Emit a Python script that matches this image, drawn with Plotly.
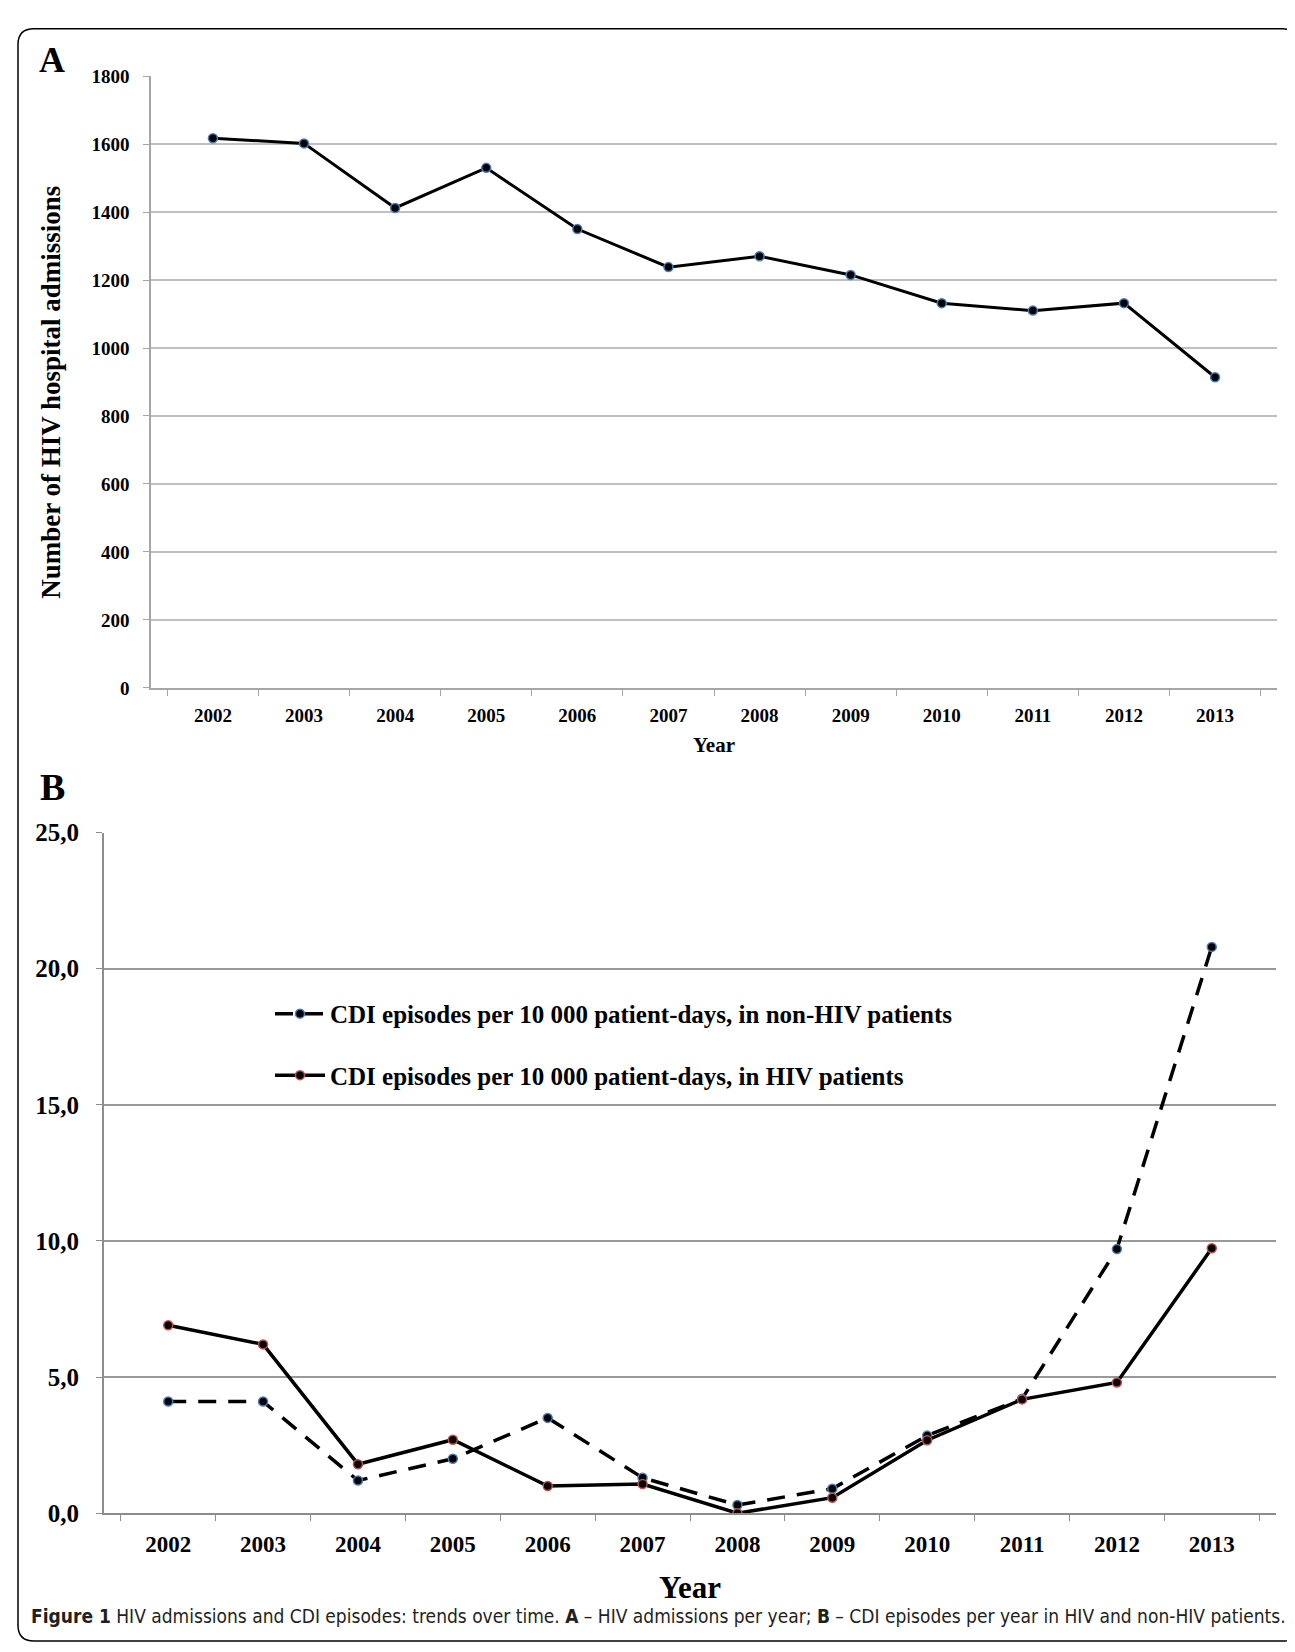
import plotly.graph_objects as go

years = ["2002", "2003", "2004", "2005", "2006", "2007", "2008", "2009", "2010", "2011", "2012", "2013"]
hiv_admissions = [1617, 1602, 1412, 1530, 1350, 1238, 1270, 1215, 1132, 1110, 1132, 914]
cdi_non_hiv = [4.1, 4.1, 1.2, 2.0, 3.5, 1.3, 0.3, 0.9, 2.85, 4.2, 9.7, 20.8]
cdi_hiv = [6.9, 6.2, 1.8, 2.7, 1.0, 1.07, 0.0, 0.57, 2.68, 4.18, 4.8, 9.73]
a_ticks = [0, 200, 400, 600, 800, 1000, 1200, 1400, 1600, 1800]
b_ticks = [0, 5, 10, 15, 20, 25]
b_ticktext = ["0,0", "5,0", "10,0", "15,0", "20,0", "25,0"]

W, H = 1295, 1652
def px(x):
    return x / W
def py(y):
    return 1 - y / H

SERIF = "Liberation Serif, Times New Roman, serif"
BLUE = "#4a7ebb"
RED = "#c0504d"

fig = go.Figure()

fig.add_trace(go.Scatter(
    x=years, y=hiv_admissions, mode="lines+markers", xaxis="x", yaxis="y",
    line=dict(color="black", width=3),
    marker=dict(size=9, color="black", line=dict(color=BLUE, width=1.5)),
    showlegend=False,
))

fig.add_trace(go.Scatter(
    x=years, y=cdi_non_hiv, mode="lines+markers", xaxis="x2", yaxis="y2",
    name="CDI episodes per 10 000 patient-days, in non-HIV patients",
    legendgroup="g1",
    line=dict(color="black", width=3.5, dash="18px,12px"),
    marker=dict(size=9, color="black", line=dict(color=BLUE, width=1.5)),
))
fig.add_trace(go.Scatter(
    x=years, y=cdi_hiv, mode="lines+markers", xaxis="x2", yaxis="y2",
    name="CDI episodes per 10 000 patient-days, in HIV patients",
    legendgroup="g2",
    line=dict(color="black", width=3.5),
    marker=dict(size=9, color="black", line=dict(color=RED, width=1.5)),
))

axis_font_a = dict(family=SERIF, size=19, color="black", weight="bold")
axis_font_b = dict(family=SERIF, size=25, color="black", weight="bold")

fig.update_layout(
    width=W, height=H,
    margin=dict(l=0, r=0, t=0, b=0),
    paper_bgcolor="white", plot_bgcolor="white",
    font=dict(family=SERIF, color="black"),
    xaxis=dict(
        domain=[px(143), px(1269)], anchor="y", type="category",
        tickson="boundaries", ticks="outside", ticklen=6, tickcolor="#a6a6a6",
        showline=True, linecolor="#a6a6a6", linewidth=1.5, showgrid=False,
        tickfont=axis_font_a, ticklabelstandoff=10,
        title=dict(text="Year", font=dict(family=SERIF, size=21, color="black", weight="bold"), standoff=12),
    ),
    yaxis=dict(
        domain=[py(678), py(56)], anchor="x", range=[0, 1800],
        tickvals=a_ticks, ticks="outside", ticklen=6, tickcolor="#a6a6a6",
        showline=True, linecolor="#a6a6a6", linewidth=1.5,
        showgrid=True, gridcolor="#c0c0c0", gridwidth=1.5, zeroline=False,
        tickfont=axis_font_a, ticklabelstandoff=10,
    ),
    xaxis2=dict(
        domain=[px(96), px(1268)], anchor="y2", type="category",
        tickson="boundaries", ticks="outside", ticklen=6, tickcolor="#8c8c8c",
        showline=True, linecolor="#8c8c8c", linewidth=2, showgrid=False,
        tickfont=dict(family=SERIF, size=23, color="black", weight="bold"),
        ticklabelstandoff=9,
        title=dict(text="Year", font=dict(family=SERIF, size=31, color="black", weight="bold"), standoff=20),
    ),
    yaxis2=dict(
        domain=[py(1517), py(825)], anchor="x2", range=[0, 25],
        tickvals=b_ticks, ticktext=b_ticktext, ticks="outside", ticklen=6, tickcolor="#8c8c8c",
        showline=True, linecolor="#8c8c8c", linewidth=2,
        showgrid=True, gridcolor="#999999", gridwidth=2, zeroline=False,
        tickfont=axis_font_b, ticklabelstandoff=12,
    ),
    legend=dict(
        x=px(262), y=py(986), xanchor="left", yanchor="top",
        bgcolor="rgba(0,0,0,0)", tracegroupgap=26,
        font=dict(family=SERIF, size=25, color="black", weight="bold"),
        itemwidth=50,
    ),
    showlegend=True,
)

annotations = [
    dict(text="A", x=px(44), y=py(40), font=dict(family=SERIF, size=36, color="black", weight="bold")),
    dict(text="B", x=px(44), y=py(779), font=dict(family=SERIF, size=38, color="black", weight="bold")),
    dict(text="Number of HIV hospital admissions", x=px(43), y=py(378), textangle=-90,
         font=dict(family=SERIF, size=27, color="black", weight="bold")),
    dict(text="<b>Figure 1</b> HIV admissions and CDI episodes: trends over time. <b>A</b> – HIV admissions per year; "
              "<b>B</b> – CDI episodes per year in HIV and non-HIV patients.",
         x=px(650), y=py(1622),
         font=dict(family="Liberation Sans Narrow, DejaVu Sans Condensed, Noto Sans, sans-serif", size=19, color="#231f20")),
]
for a in annotations:
    a.update(xref="paper", yref="paper", showarrow=False, xanchor="center", yanchor="middle")
fig.update_layout(annotations=annotations)

# rounded outer frame
x0, x1, y0, y1, r = px(10), px(1291), py(8), py(1647), 16
rx, ry = r / W, r / H
path = (f"M {x0+rx},{y0} L {x1-rx},{y0} Q {x1},{y0} {x1},{y0-ry} "
        f"L {x1},{y1+ry} Q {x1},{y1} {x1-rx},{y1} L {x0+rx},{y1} Q {x0},{y1} {x0},{y1+ry} "
        f"L {x0},{y0-ry} Q {x0},{y0} {x0+rx},{y0} Z")
fig.add_shape(type="path", path=path, xref="paper", yref="paper", line=dict(color="black", width=1.5))

fig.write_html("out.html")
